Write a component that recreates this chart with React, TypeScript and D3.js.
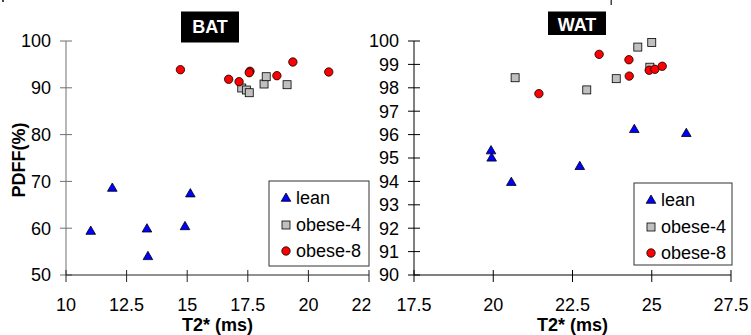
import React from 'react'
import * as d3 from 'd3'

// BAT panel: [T2* (ms), PDFF (%)]
const batLean: [number, number][] = [
  [11.02, 59.5], [11.91, 68.7], [13.34, 60.0], [13.38, 54.1], [14.91, 60.5], [15.13, 67.5]
]
const batObese4: [number, number][] = [
  [17.25, 89.96], [17.44, 89.53], [17.56, 88.95], [18.17, 90.81], [18.26, 92.37], [19.12, 90.66]
]
const batObese8: [number, number][] = [
  [14.72, 93.87], [16.71, 91.82], [17.14, 91.3], [17.59, 93.53], [17.56, 93.23], [18.7, 92.59], [19.36, 95.51], [20.84, 93.38]
]

// WAT panel
const watLean: [number, number][] = [
  [19.93, 95.34], [19.95, 95.03], [20.57, 93.99], [22.73, 94.67], [24.45, 96.25], [26.09, 96.08]
]
const watObese4: [number, number][] = [
  [20.69, 98.43], [22.95, 97.91], [23.88, 98.39], [24.56, 99.74], [25.0, 99.94], [24.94, 98.88]
]
const watObese8: [number, number][] = [
  [21.44, 97.75], [23.34, 99.43], [24.28, 99.2], [24.29, 98.5], [24.92, 98.75], [25.1, 98.79], [25.33, 98.92]
]

const batXTicks = [10, 12.5, 15, 17.5, 20, 22.5]
const batYTicks = [50, 60, 70, 80, 90, 100]
const watXTicks = [17.5, 20, 22.5, 25, 27.5]
const watYTicks = [90, 91, 92, 93, 94, 95, 96, 97, 98, 99, 100]

const seriesNames = ['lean', 'obese-4', 'obese-8']

const FONT = '"Liberation Sans", Arial, sans-serif'

const Marker = ({kind, x, y}: {kind: number, x: number, y: number}) => {
  if (kind === 0) {
    return <path d={`M${x},${y - 4.5}L${x + 4.8},${y + 3.8}L${x - 4.8},${y + 3.8}Z`}
      fill="#0000ff" stroke="#000" strokeWidth={0.8}/>
  }
  if (kind === 1) {
    return <rect x={x - 4} y={y - 4} width={8} height={8} fill="#c0c0c0" stroke="#000" strokeWidth={0.8}/>
  }
  return <circle cx={x} cy={y} r={4.2} fill="#ff0000" stroke="#000" strokeWidth={0.8}/>
}

const Panel = (props: any) => {
  const {x0, x1, y0, y1, xDomain, yDomain, xTicks, yTicks, series, title, titleBox,
    legend, yAxisColor, xAxisColor} = props
  const x = d3.scaleLinear().domain(xDomain).range([x0, x1])
  const y = d3.scaleLinear().domain(yDomain).range([y1, y0])
  const fmt = (v: number) => String(v)
  return (
    <g fontFamily={FONT}>
      {/* title */}
      <rect x={titleBox[0]} y={titleBox[1]} width={titleBox[2]} height={titleBox[3]} fill="#000"/>
      <text x={titleBox[0] + titleBox[2] / 2} y={titleBox[4]} fill="#fff" fontWeight="bold"
        fontSize={18} textAnchor="middle">{title}</text>

      {/* y axis */}
      <line x1={x0} x2={x0} y1={y0} y2={y1} stroke={yAxisColor} strokeWidth={1}/>
      {yTicks.map((t: number) => (
        <g key={'y' + t}>
          <line x1={x0 - 6} x2={x0 + 6} y1={y(t)} y2={y(t)} stroke={yAxisColor}/>
          <text x={x0 - 15} y={y(t)} dy="0.36em" textAnchor="end" fontSize={18} fill="#000">{fmt(t)}</text>
        </g>
      ))}

      {/* x axis */}
      <line x1={x0} x2={x1} y1={y1} y2={y1} stroke={xAxisColor} strokeWidth={1}/>
      {xTicks.map((t: number) => (
        <g key={'x' + t}>
          <line x1={x(t)} x2={x(t)} y1={y1 - 5} y2={y1 + 7} stroke={xAxisColor}/>
          <text x={x(t)} y={y1 + 36} textAnchor="middle" fontSize={18} fill="#000">{fmt(t)}</text>
        </g>
      ))}
      <text x={(x0 + x1) / 2} y={331} textAnchor="middle" fontSize={18} fontWeight="bold">T2* (ms)</text>

      {/* points */}
      {series.map((s: [number, number][], k: number) => (
        <g key={'s' + k}>
          {s.map((p, i) => <Marker key={i} kind={k} x={x(p[0])} y={y(p[1])}/>)}
        </g>
      ))}

      {/* legend */}
      <rect x={legend[0]} y={legend[1]} width={legend[2]} height={legend[3]} fill="#fff" stroke="#333" strokeWidth={1}/>
      {seriesNames.map((n, k) => {
        const ly = legend[1] + [16.5, 44, 70][k]
        return (
          <g key={n}>
            <Marker kind={k} x={legend[0] + 17} y={ly}/>
            <text x={legend[0] + 27} y={ly} dy="0.36em" fontSize={18}>{n}</text>
          </g>
        )
      })}
    </g>
  )
}

const App = () => {
  return (
    <svg width={751} height={335} style={{position: 'absolute', left: 0, top: 0, background: '#fff'}}>
      <rect x={0} y={0} width={751} height={335} fill="#fff"/>
      <rect x={2} y={0} width={2} height={2} fill="#444"/>
      <Panel x0={66} x1={369} y0={41} y1={275}
        xDomain={[10, 22.5]} yDomain={[50, 100]}
        xTicks={batXTicks} yTicks={batYTicks}
        series={[batLean, batObese4, batObese8]}
        title="BAT" titleBox={[181, 11.5, 58, 31, 33]}
        legend={[269, 181, 100, 85]}
        yAxisColor="#707070" xAxisColor="#222"/>
      <text x={25} y={160} transform="rotate(-90 25 160)" textAnchor="middle" fontFamily={FONT}
        fontSize={18} fontWeight="bold">PDFF(%)</text>

      {/* right panel sits over the left one */}
      <rect x={370.5} y={0} width={381} height={335} fill="#fff"/>
      <Panel x0={414} x1={731} y0={41} y1={275}
        xDomain={[17.5, 27.5]} yDomain={[90, 100]}
        xTicks={watXTicks} yTicks={watYTicks}
        series={[watLean, watObese4, watObese8]}
        title="WAT" titleBox={[548, 11.5, 58, 23.5, 30.5]}
        legend={[634, 183, 98, 82]}
        yAxisColor="#000" xAxisColor="#000"/>
      <rect x={610.5} y={0} width={1.5} height={5} fill="#444"/>
    </svg>
  )
}

export default App
